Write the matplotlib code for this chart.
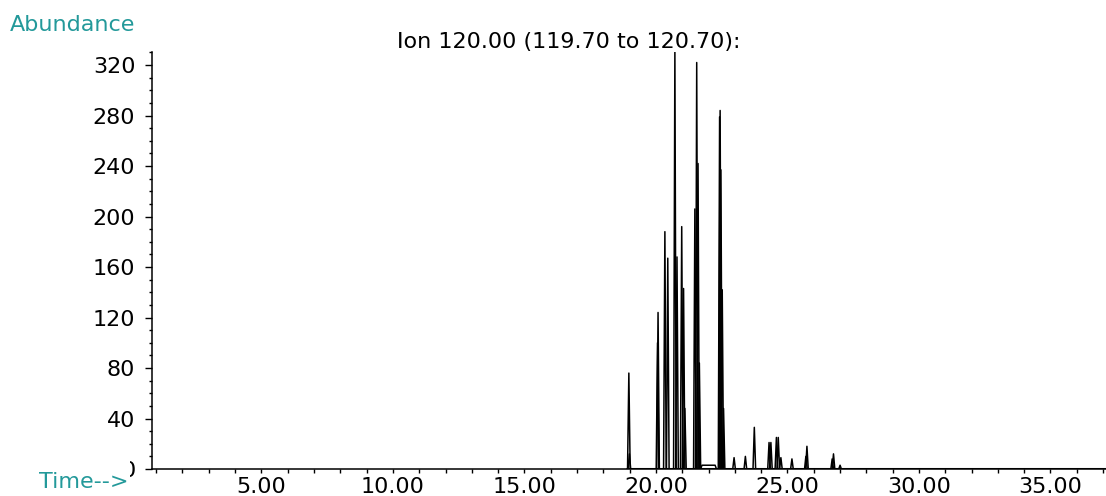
import numpy as np
import matplotlib.pyplot as plt
from matplotlib.ticker import MultipleLocator, FormatStrFormatter
from matplotlib.transforms import Bbox, TransformedBbox

plt.rcParams['font.family'] = ['DejaVu Sans']

# peak apexes (retention time in min, abundance)
peak_times = [18.97, 18.99, 20.06, 20.08, 20.34, 20.45, 20.72, 20.80, 20.98, 21.05, 21.10,
              21.48, 21.55, 21.60, 21.65, 22.42, 22.44, 22.47, 22.52, 22.57,
              22.97, 23.40, 23.74, 24.30, 24.37, 24.58, 24.65, 24.75,
              25.17, 25.70, 25.74, 26.70, 26.75, 27.00]
peak_heights = [76, 12, 100, 124, 188, 167, 332, 168, 192, 143, 48,
                206, 322, 242, 84, 279, 284, 237, 142, 48,
                9, 10, 33, 21, 21, 25, 25, 9,
                8, 10, 18, 8, 12, 3]
peak_halfwidth = 0.05

# raised baseline stretch between the big clusters
hump_times = [21.70, 21.75, 22.25, 22.30]
hump_values = [0, 3, 3, 0]

x_ticks = [5, 10, 15, 20, 25, 30, 35]
y_ticks = [0, 40, 80, 120, 160, 200, 240, 280, 320]

trace_start, trace_end = 18.85, 37.2
teal = '#23999a'

fig = plt.figure(figsize=(11.06, 4.96), dpi=100)
ax = fig.add_axes([0.1374, 0.0544, 0.8626, 0.8407])

ax.plot([trace_start, trace_end], [0, 0], color='black', lw=2.2, solid_capstyle='butt')
for t, h in zip(peak_times, peak_heights):
    ax.plot([t - peak_halfwidth, t, t + peak_halfwidth], [0, h, 0], color='black', lw=1.1)
ax.plot(hump_times, hump_values, color='black', lw=1.1)

for side in ['top', 'right']:
    ax.spines[side].set_visible(False)
ax.spines['left'].set_linewidth(1.1)
ax.spines['bottom'].set_linewidth(1.1)

ax.set_xticks(x_ticks)
ax.xaxis.set_minor_locator(MultipleLocator(1))
ax.xaxis.set_major_formatter(FormatStrFormatter('%.2f'))
ax.set_yticks(y_ticks)
ax.yaxis.set_minor_locator(MultipleLocator(10))
ax.tick_params(axis='x', which='both', direction='out', length=3, width=1, pad=3, labelsize=16)
ax.tick_params(axis='y', which='major', direction='out', length=5, width=1, pad=7, labelsize=16)
ax.tick_params(axis='y', which='minor', direction='out', length=2.5, width=1)
ax.set_xlim(0.84, 37.11)
ax.set_ylim(0, 330.3)

# the zero label is partly hidden behind the time caption, as in the reference
fig.canvas.draw()
zero_label = ax.get_yticklabels()[0]
zero_label.set_clip_box(TransformedBbox(Bbox([[129.5 / 1106, 0], [1, 1]]), fig.transFigure))
zero_label.set_clip_on(True)

ax.set_title('Ion 120.00 (119.70 to 120.70):', fontsize=16, pad=3, x=0.437)
fig.text(0.035, 0.028, 'Time-->', color=teal, fontsize=16, va='center', ha='left')
fig.text(0.009, 0.95, 'Abundance', color=teal, fontsize=16, va='center', ha='left')

fig.savefig('out.png', dpi=100)
